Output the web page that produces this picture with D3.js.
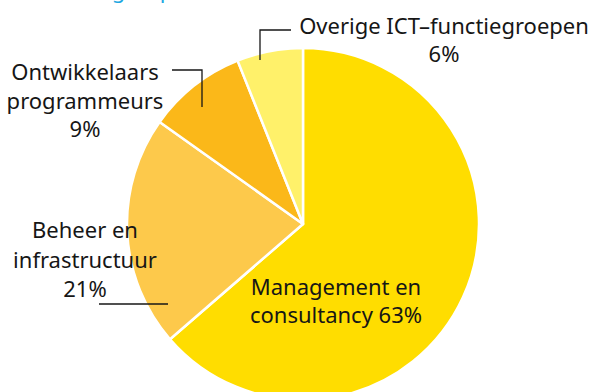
<!DOCTYPE html>
<html lang="nl">
<head>
  <meta charset="UTF-8">
  <title>ICT-functiegroepen</title>
  <style>
    body { margin: 0; background: #fff; }
    svg text { font-family: "Noto Sans", sans-serif; fill: #161616; }
  </style>
</head>
<body>
  <svg id="chart" width="590" height="392"></svg>

  <script src="https://d3js.org/d3.v7.min.js"></script>
  <script>
    // data (percentages)
    const groups = ["Management en consultancy", "Beheer en infrastructuur", "Ontwikkelaars programmeurs", "Overige ICT–functiegroepen"];
    const shares = [63, 21, 9, 6];
    const colours = ["#ffdd00", "#fdc94b", "#fbb819", "#fff16a"];
    // label text lines per slice
    const labelLines = [
      ["Management en", "consultancy 63%"],
      ["Beheer en", "infrastructuur", "21%"],
      ["Ontwikkelaars", "programmeurs", "9%"],
      ["Overige ICT–functiegroepen", "6%"]
    ];

    const svg = d3.select('#chart');
    const cx = 303, cy = 224, r = 176;

    // title, mostly cut off at the top of the picture
    svg.append('text')
      .attr('x', 0)
      .attr('y', -2)
      .style('fill', '#1ea7e1')
      .style('font-size', '22px')
      .text('Per functiegroep');

    const pie = d3.pie().sort(null).value(d => d.value);
    const arc = d3.arc().innerRadius(0).outerRadius(r);
    const data = groups.map((g, i) => ({ name: g, value: shares[i], colour: colours[i], lines: labelLines[i] }));
    const arcs = pie(data);

    const g = svg.append('g').attr('transform', `translate(${cx},${cy})`);
    g.selectAll('path')
      .data(arcs)
      .enter().append('path')
      .attr('d', arc)
      .attr('fill', d => d.data.colour)
      .attr('stroke', '#fff')
      .attr('stroke-width', 2.5)
      .attr('stroke-linejoin', 'round');

    // label positions (centre x, first baseline) and leader lines
    const labelPos = [
      { x: 336, y: 295, lh: 28 },
      { x: 85, y: 238, lh: 29.5 },
      { x: 85, y: 80, lh: 28.5 },
      { x: 444, y: 34, lh: 28 }
    ];
    const leaders = [
      null,
      [[99, 304], [168, 304]],
      [[172, 70], [202, 70], [202, 107]],
      [[291, 30], [260, 30], [260, 60]]
    ];

    const line = d3.line();
    leaders.forEach(pts => {
      if (!pts) return;
      svg.append('path')
        .attr('d', line(pts))
        .attr('fill', 'none')
        .attr('stroke', '#161616')
        .attr('stroke-width', 1.3);
    });

    data.forEach((d, i) => {
      const p = labelPos[i];
      const t = svg.append('text')
        .attr('text-anchor', 'middle')
        .style('font-size', '22px');
      d.lines.forEach((l, j) => {
        t.append('tspan')
          .attr('x', p.x)
          .attr('y', p.y + j * p.lh)
          .text(l);
      });
    });
  </script>
</body>
</html>
